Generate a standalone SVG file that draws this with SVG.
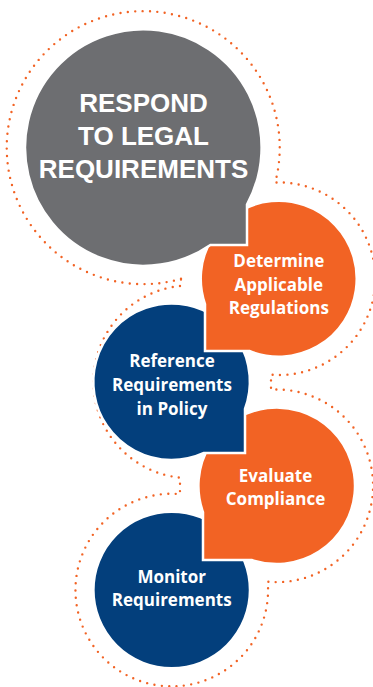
<svg xmlns="http://www.w3.org/2000/svg" width="373" height="687" viewBox="0 0 373 687">
<style>
.bub{stroke:#ffffff;stroke-width:2.5;stroke-linejoin:miter}
.gray{fill:#6d6e71}
.orange{fill:#f26324}
.blue{fill:#033f7c}
.dots{fill:none;stroke:#f26324;stroke-width:2.4;stroke-linecap:round;stroke-dasharray:0 7.4}
.title{font-family:"Liberation Sans",Arial,sans-serif;font-weight:bold;font-size:26px;fill:#ffffff;text-anchor:middle}
.lbl{font-family:"Open Sans","Noto Sans",sans-serif;font-weight:bold;font-size:17px;fill:#ffffff;text-anchor:middle}
</style>
<rect width="373" height="687" fill="#ffffff"/>
<g id="connectors">
<path class="dots" d="M181,278.8 A136.5 136.5 0 1 1 275.2,182.5 A96.3 96.3 0 1 1 271,374.7 L271,389.7 A96.3 96.3 0 1 1 267.7,581.7 A96.3 96.3 0 1 1 180,494.1 L180,477.6 A96.3 96.3 0 0 1 181,285.9 Z"/>
</g>
<g id="monitor">
<circle class="bub blue" cx="171.7" cy="590" r="78.3"/>
<text class="lbl" x="171.7" y="582.7">Monitor</text>
<text class="lbl" x="171.7" y="606">Requirements</text>
</g>
<g id="evaluate">
<path class="bub orange" d="M251.7,560 L203,560 L203,512.2 A78.3 78.3 0 1 1 251.7,560 Z"/>
<text class="lbl" x="275.5" y="481.7">Evaluate</text>
<text class="lbl" x="275.5" y="505">Compliance</text>
</g>
<g id="reference">
<path class="bub blue" d="M245,409 L245,453 L204,453 A78.3 78.3 0 1 1 245,409 Z"/>
<text class="lbl" x="172" y="367.3">Reference</text>
<text class="lbl" x="172" y="390.7">Requirements</text>
<text class="lbl" x="172" y="414.5">in Policy</text>
</g>
<g id="determine">
<path class="bub orange" d="M249.4,351 L205,351 L205,304.2 A78 78 0 1 1 249.4,351 Z"/>
<text class="lbl" x="278.8" y="267.3">Determine</text>
<text class="lbl" x="278.8" y="290.7">Applicable</text>
<text class="lbl" x="278.8" y="314">Regulations</text>
</g>
<g id="respond">
<path class="bub gray" d="M247,204.5 L247,245 L210.4,245 A118.3 118.3 0 1 1 247,204.5 Z"/>
<text class="title" x="143.5" y="111.7">RESPOND</text>
<text class="title" x="143.5" y="145">TO LEGAL</text>
<text class="title" x="143.5" y="178">REQUIREMENTS</text>
</g>
</svg>
